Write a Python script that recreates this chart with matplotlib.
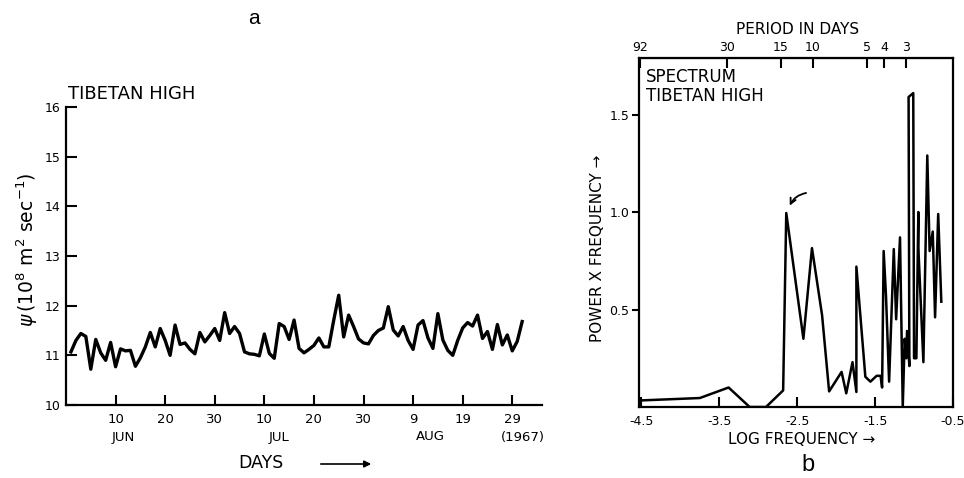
import numpy as np
import matplotlib
matplotlib.use("Agg")
import matplotlib.pyplot as plt

plt.rcParams['font.family'] = ['DejaVu Sans']
plt.rcParams['axes.unicode_minus'] = False

W, H = 964, 478

# ---- Panel a data: daily stream function, 1 Jun - 31 Aug 1967 ----
days = list(range(1, 93))
psi = [11.07, 11.30, 11.44, 11.38, 10.72, 11.32, 11.05, 10.90, 11.26, 10.77,
       11.13, 11.09, 11.10, 10.78, 10.95, 11.17, 11.46, 11.17, 11.54, 11.30,
       11.00, 11.61, 11.22, 11.25, 11.12, 11.03, 11.46, 11.27, 11.40, 11.54,
       11.30, 11.86, 11.44, 11.58, 11.44, 11.07, 11.03, 11.02, 10.99, 11.43,
       11.04, 10.94, 11.64, 11.58, 11.32, 11.71, 11.14, 11.05, 11.12, 11.20,
       11.35, 11.17, 11.17, 11.71, 12.21, 11.37, 11.81, 11.58, 11.33, 11.25,
       11.23, 11.40, 11.50, 11.55, 11.98, 11.51, 11.39, 11.58, 11.30, 11.12,
       11.61, 11.70, 11.35, 11.14, 11.84, 11.31, 11.10, 11.00, 11.30, 11.55,
       11.66, 11.59, 11.81, 11.34, 11.48, 11.12, 11.62, 11.21, 11.41, 11.09,
       11.28, 11.68]
a_xticks = [10, 20, 30, 40, 50, 60, 70, 80, 90]
a_xticklabels = ["10", "20", "30", "10", "20", "30", "9", "19", "29"]
a_yticks = [10, 11, 12, 13, 14, 15, 16]
a_yticklabels = ["10", "11", "12", "13", "14", "15", "16"]

# ---- Panel b data: spectrum (log frequency vs power x frequency) ----
spec_logf = [-4.49, -3.75, -3.38, -3.11, -2.90, -2.68, -2.64, -2.42, -2.31, -2.18,
             -2.09, -1.93, -1.87, -1.79, -1.74, -1.74, -1.625, -1.56, -1.48, -1.43,
             -1.41, -1.39, -1.36, -1.32, -1.26, -1.23, -1.18, -1.145, -1.12, -1.10,
             -1.09, -1.06, -1.07, -1.01, -1.00, -0.97, -0.945, -0.945, -0.88, -0.83,
             -0.80, -0.76, -0.73, -0.69, -0.65]
spec_pow = [0.034, 0.046, 0.10, 0.0, 0.0, 0.085, 0.995, 0.35, 0.815, 0.47,
            0.08, 0.18, 0.07, 0.23, 0.077, 0.72, 0.155, 0.13, 0.16, 0.16,
            0.10, 0.80, 0.57, 0.13, 0.81, 0.45, 0.87, 0.0, 0.35, 0.25,
            0.39, 0.21, 1.59, 1.61, 0.25, 0.25, 1.00, 0.82, 0.23, 1.29,
            0.80, 0.90, 0.46, 0.99, 0.54]
b_xticks = [-4.5, -3.5, -2.5, -1.5, -0.5]
b_xticklabels = ["-4.5", "-3.5", "-2.5", "-1.5", "-0.5"]
b_yticks = [0.5, 1.0, 1.5]
b_yticklabels = ["0.5", "1.0", "1.5"]
periods = [92, 30, 15, 10, 5, 4, 3]

fig = plt.figure(figsize=(W / 100, H / 100), dpi=100)


def px_box(l, t, r, b):
    return [l / W, 1 - b / H, (r - l) / W, (b - t) / H]


def ftext(px, py, s, **kw):
    fig.text(px / W, 1 - py / H, s, **kw)


# ================= Panel a =================
axa = fig.add_axes(px_box(66, 107, 542, 405))
axa.plot(days, psi, color='black', lw=2.4, solid_joinstyle='round')
axa.set_xlim(0, 96)
axa.set_ylim(10, 16)
axa.spines['top'].set_visible(False)
axa.spines['right'].set_visible(False)
for s in ['left', 'bottom']:
    axa.spines[s].set_linewidth(1.6)
axa.set_xticks(a_xticks)
axa.set_xticklabels(a_xticklabels, fontsize=9.5)
axa.set_yticks(a_yticks)
axa.set_yticklabels(a_yticklabels, fontsize=9)
axa.tick_params(axis='x', direction='in', length=7, width=1.5, pad=6)
axa.tick_params(axis='y', direction='in', length=8, width=1.5, pad=4)

ftext(68, 94, "TIBETAN HIGH", fontsize=13, ha='left', va='center')
ftext(254, 19, "a", fontsize=15, ha='center', va='center', family='Liberation Sans')
ftext(27, 250, r'$\psi\,(10^8\ \mathrm{m}^2\ \mathrm{sec}^{-1})$', fontsize=13.5,
      rotation=90, ha='center', va='center')
for px, s in [(123, "JUN"), (279.5, "JUL"), (430.5, "AUG"), (523, "(1967)")]:
    ftext(px, 437, s, fontsize=9.5, ha='center', va='center')
ftext(261, 463, "DAYS", fontsize=12.5, ha='center', va='center')
fig.add_artist(matplotlib.patches.FancyArrowPatch(
    (318 / W, 1 - 464 / H), (374 / W, 1 - 464 / H), transform=fig.transFigure,
    arrowstyle='-|>', mutation_scale=10, lw=1.2, color='black'))

# ================= Panel b =================
axb = fig.add_axes(px_box(639, 58, 953, 407))
axb.plot(spec_logf, spec_pow, color='black', lw=1.8, solid_joinstyle='round')
axb.set_xlim(-4.53, -0.5)
axb.set_ylim(0, 1.79)
for s in axb.spines.values():
    s.set_linewidth(1.6)
axb.set_xticks(b_xticks)
axb.set_xticklabels(b_xticklabels, fontsize=9)
axb.set_yticks(b_yticks)
axb.set_yticklabels(b_yticklabels, fontsize=9)
axb.tick_params(axis='x', direction='in', length=7, width=1.5, pad=6)
axb.tick_params(axis='y', direction='out', length=5, width=1.5, pad=2)

top = axb.secondary_xaxis('top')
top.set_xticks([np.log(1.0 / p) for p in periods])
top.set_xticklabels([str(p) for p in periods], fontsize=9)
top.tick_params(axis='x', direction='in', length=7, width=1.5, pad=3)

axb.annotate("", xy=(-2.61, 1.02), xytext=(-2.35, 1.10),
             arrowprops=dict(arrowstyle='->', lw=1.3, color='black',
                             connectionstyle='arc3,rad=0.3'))

ftext(798, 30, "PERIOD IN DAYS", fontsize=11, ha='center', va='center')
ftext(646, 68, "SPECTRUM\nTIBETAN HIGH", fontsize=12, ha='left', va='top',
      linespacing=1.05)
ftext(597, 248, "POWER X FREQUENCY \u2192", fontsize=11, rotation=90,
      ha='center', va='center')
ftext(802, 440, "LOG FREQUENCY \u2192", fontsize=11, ha='center', va='center')
ftext(808, 465, "b", fontsize=17, ha='center', va='center', family='Liberation Sans')

fig.savefig("out.png", dpi=100)
